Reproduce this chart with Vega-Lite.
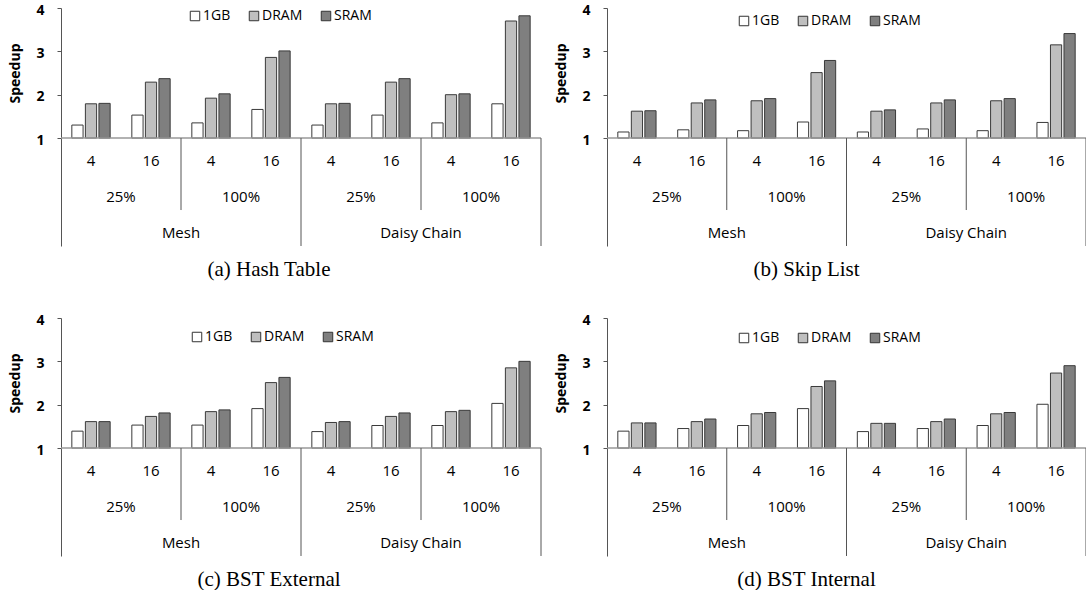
{
  "$schema": "https://vega.github.io/schema/vega-lite/v6.json",
  "background": "white",
  "padding": {"left": 7, "top": 3, "right": 0, "bottom": 0},
  "columns": 2,
  "spacing": {"row": 33, "column": 11},
  "resolve": {"scale": {"x": "independent", "y": "independent", "fill": "independent", "xOffset": "independent"}, "legend": {"fill": "independent"}},
  "datasets": {
    "speed": [
      {"panel":"a","net":"Mesh","pct":"25%","thr":"4","cfg":"Mesh 25% 4","mem":"1GB","speedup":1.30},
      {"panel":"a","net":"Mesh","pct":"25%","thr":"4","cfg":"Mesh 25% 4","mem":"DRAM","speedup":1.79},
      {"panel":"a","net":"Mesh","pct":"25%","thr":"4","cfg":"Mesh 25% 4","mem":"SRAM","speedup":1.80},
      {"panel":"a","net":"Mesh","pct":"25%","thr":"16","cfg":"Mesh 25% 16","mem":"1GB","speedup":1.53},
      {"panel":"a","net":"Mesh","pct":"25%","thr":"16","cfg":"Mesh 25% 16","mem":"DRAM","speedup":2.29},
      {"panel":"a","net":"Mesh","pct":"25%","thr":"16","cfg":"Mesh 25% 16","mem":"SRAM","speedup":2.37},
      {"panel":"a","net":"Mesh","pct":"100%","thr":"4","cfg":"Mesh 100% 4","mem":"1GB","speedup":1.35},
      {"panel":"a","net":"Mesh","pct":"100%","thr":"4","cfg":"Mesh 100% 4","mem":"DRAM","speedup":1.92},
      {"panel":"a","net":"Mesh","pct":"100%","thr":"4","cfg":"Mesh 100% 4","mem":"SRAM","speedup":2.02},
      {"panel":"a","net":"Mesh","pct":"100%","thr":"16","cfg":"Mesh 100% 16","mem":"1GB","speedup":1.66},
      {"panel":"a","net":"Mesh","pct":"100%","thr":"16","cfg":"Mesh 100% 16","mem":"DRAM","speedup":2.86},
      {"panel":"a","net":"Mesh","pct":"100%","thr":"16","cfg":"Mesh 100% 16","mem":"SRAM","speedup":3.01},
      {"panel":"a","net":"Daisy Chain","pct":"25%","thr":"4","cfg":"Daisy Chain 25% 4","mem":"1GB","speedup":1.30},
      {"panel":"a","net":"Daisy Chain","pct":"25%","thr":"4","cfg":"Daisy Chain 25% 4","mem":"DRAM","speedup":1.79},
      {"panel":"a","net":"Daisy Chain","pct":"25%","thr":"4","cfg":"Daisy Chain 25% 4","mem":"SRAM","speedup":1.80},
      {"panel":"a","net":"Daisy Chain","pct":"25%","thr":"16","cfg":"Daisy Chain 25% 16","mem":"1GB","speedup":1.53},
      {"panel":"a","net":"Daisy Chain","pct":"25%","thr":"16","cfg":"Daisy Chain 25% 16","mem":"DRAM","speedup":2.29},
      {"panel":"a","net":"Daisy Chain","pct":"25%","thr":"16","cfg":"Daisy Chain 25% 16","mem":"SRAM","speedup":2.37},
      {"panel":"a","net":"Daisy Chain","pct":"100%","thr":"4","cfg":"Daisy Chain 100% 4","mem":"1GB","speedup":1.35},
      {"panel":"a","net":"Daisy Chain","pct":"100%","thr":"4","cfg":"Daisy Chain 100% 4","mem":"DRAM","speedup":2.00},
      {"panel":"a","net":"Daisy Chain","pct":"100%","thr":"4","cfg":"Daisy Chain 100% 4","mem":"SRAM","speedup":2.02},
      {"panel":"a","net":"Daisy Chain","pct":"100%","thr":"16","cfg":"Daisy Chain 100% 16","mem":"1GB","speedup":1.79},
      {"panel":"a","net":"Daisy Chain","pct":"100%","thr":"16","cfg":"Daisy Chain 100% 16","mem":"DRAM","speedup":3.70},
      {"panel":"a","net":"Daisy Chain","pct":"100%","thr":"16","cfg":"Daisy Chain 100% 16","mem":"SRAM","speedup":3.82},

      {"panel":"b","net":"Mesh","pct":"25%","thr":"4","cfg":"Mesh 25% 4","mem":"1GB","speedup":1.14},
      {"panel":"b","net":"Mesh","pct":"25%","thr":"4","cfg":"Mesh 25% 4","mem":"DRAM","speedup":1.62},
      {"panel":"b","net":"Mesh","pct":"25%","thr":"4","cfg":"Mesh 25% 4","mem":"SRAM","speedup":1.63},
      {"panel":"b","net":"Mesh","pct":"25%","thr":"16","cfg":"Mesh 25% 16","mem":"1GB","speedup":1.19},
      {"panel":"b","net":"Mesh","pct":"25%","thr":"16","cfg":"Mesh 25% 16","mem":"DRAM","speedup":1.81},
      {"panel":"b","net":"Mesh","pct":"25%","thr":"16","cfg":"Mesh 25% 16","mem":"SRAM","speedup":1.88},
      {"panel":"b","net":"Mesh","pct":"100%","thr":"4","cfg":"Mesh 100% 4","mem":"1GB","speedup":1.17},
      {"panel":"b","net":"Mesh","pct":"100%","thr":"4","cfg":"Mesh 100% 4","mem":"DRAM","speedup":1.86},
      {"panel":"b","net":"Mesh","pct":"100%","thr":"4","cfg":"Mesh 100% 4","mem":"SRAM","speedup":1.91},
      {"panel":"b","net":"Mesh","pct":"100%","thr":"16","cfg":"Mesh 100% 16","mem":"1GB","speedup":1.37},
      {"panel":"b","net":"Mesh","pct":"100%","thr":"16","cfg":"Mesh 100% 16","mem":"DRAM","speedup":2.51},
      {"panel":"b","net":"Mesh","pct":"100%","thr":"16","cfg":"Mesh 100% 16","mem":"SRAM","speedup":2.79},
      {"panel":"b","net":"Daisy Chain","pct":"25%","thr":"4","cfg":"Daisy Chain 25% 4","mem":"1GB","speedup":1.14},
      {"panel":"b","net":"Daisy Chain","pct":"25%","thr":"4","cfg":"Daisy Chain 25% 4","mem":"DRAM","speedup":1.62},
      {"panel":"b","net":"Daisy Chain","pct":"25%","thr":"4","cfg":"Daisy Chain 25% 4","mem":"SRAM","speedup":1.65},
      {"panel":"b","net":"Daisy Chain","pct":"25%","thr":"16","cfg":"Daisy Chain 25% 16","mem":"1GB","speedup":1.21},
      {"panel":"b","net":"Daisy Chain","pct":"25%","thr":"16","cfg":"Daisy Chain 25% 16","mem":"DRAM","speedup":1.81},
      {"panel":"b","net":"Daisy Chain","pct":"25%","thr":"16","cfg":"Daisy Chain 25% 16","mem":"SRAM","speedup":1.88},
      {"panel":"b","net":"Daisy Chain","pct":"100%","thr":"4","cfg":"Daisy Chain 100% 4","mem":"1GB","speedup":1.17},
      {"panel":"b","net":"Daisy Chain","pct":"100%","thr":"4","cfg":"Daisy Chain 100% 4","mem":"DRAM","speedup":1.86},
      {"panel":"b","net":"Daisy Chain","pct":"100%","thr":"4","cfg":"Daisy Chain 100% 4","mem":"SRAM","speedup":1.91},
      {"panel":"b","net":"Daisy Chain","pct":"100%","thr":"16","cfg":"Daisy Chain 100% 16","mem":"1GB","speedup":1.36},
      {"panel":"b","net":"Daisy Chain","pct":"100%","thr":"16","cfg":"Daisy Chain 100% 16","mem":"DRAM","speedup":3.15},
      {"panel":"b","net":"Daisy Chain","pct":"100%","thr":"16","cfg":"Daisy Chain 100% 16","mem":"SRAM","speedup":3.41},

      {"panel":"c","net":"Mesh","pct":"25%","thr":"4","cfg":"Mesh 25% 4","mem":"1GB","speedup":1.39},
      {"panel":"c","net":"Mesh","pct":"25%","thr":"4","cfg":"Mesh 25% 4","mem":"DRAM","speedup":1.61},
      {"panel":"c","net":"Mesh","pct":"25%","thr":"4","cfg":"Mesh 25% 4","mem":"SRAM","speedup":1.61},
      {"panel":"c","net":"Mesh","pct":"25%","thr":"16","cfg":"Mesh 25% 16","mem":"1GB","speedup":1.53},
      {"panel":"c","net":"Mesh","pct":"25%","thr":"16","cfg":"Mesh 25% 16","mem":"DRAM","speedup":1.73},
      {"panel":"c","net":"Mesh","pct":"25%","thr":"16","cfg":"Mesh 25% 16","mem":"SRAM","speedup":1.81},
      {"panel":"c","net":"Mesh","pct":"100%","thr":"4","cfg":"Mesh 100% 4","mem":"1GB","speedup":1.53},
      {"panel":"c","net":"Mesh","pct":"100%","thr":"4","cfg":"Mesh 100% 4","mem":"DRAM","speedup":1.84},
      {"panel":"c","net":"Mesh","pct":"100%","thr":"4","cfg":"Mesh 100% 4","mem":"SRAM","speedup":1.88},
      {"panel":"c","net":"Mesh","pct":"100%","thr":"16","cfg":"Mesh 100% 16","mem":"1GB","speedup":1.91},
      {"panel":"c","net":"Mesh","pct":"100%","thr":"16","cfg":"Mesh 100% 16","mem":"DRAM","speedup":2.51},
      {"panel":"c","net":"Mesh","pct":"100%","thr":"16","cfg":"Mesh 100% 16","mem":"SRAM","speedup":2.63},
      {"panel":"c","net":"Daisy Chain","pct":"25%","thr":"4","cfg":"Daisy Chain 25% 4","mem":"1GB","speedup":1.38},
      {"panel":"c","net":"Daisy Chain","pct":"25%","thr":"4","cfg":"Daisy Chain 25% 4","mem":"DRAM","speedup":1.59},
      {"panel":"c","net":"Daisy Chain","pct":"25%","thr":"4","cfg":"Daisy Chain 25% 4","mem":"SRAM","speedup":1.61},
      {"panel":"c","net":"Daisy Chain","pct":"25%","thr":"16","cfg":"Daisy Chain 25% 16","mem":"1GB","speedup":1.52},
      {"panel":"c","net":"Daisy Chain","pct":"25%","thr":"16","cfg":"Daisy Chain 25% 16","mem":"DRAM","speedup":1.73},
      {"panel":"c","net":"Daisy Chain","pct":"25%","thr":"16","cfg":"Daisy Chain 25% 16","mem":"SRAM","speedup":1.81},
      {"panel":"c","net":"Daisy Chain","pct":"100%","thr":"4","cfg":"Daisy Chain 100% 4","mem":"1GB","speedup":1.52},
      {"panel":"c","net":"Daisy Chain","pct":"100%","thr":"4","cfg":"Daisy Chain 100% 4","mem":"DRAM","speedup":1.84},
      {"panel":"c","net":"Daisy Chain","pct":"100%","thr":"4","cfg":"Daisy Chain 100% 4","mem":"SRAM","speedup":1.87},
      {"panel":"c","net":"Daisy Chain","pct":"100%","thr":"16","cfg":"Daisy Chain 100% 16","mem":"1GB","speedup":2.03},
      {"panel":"c","net":"Daisy Chain","pct":"100%","thr":"16","cfg":"Daisy Chain 100% 16","mem":"DRAM","speedup":2.85},
      {"panel":"c","net":"Daisy Chain","pct":"100%","thr":"16","cfg":"Daisy Chain 100% 16","mem":"SRAM","speedup":3.00},

      {"panel":"d","net":"Mesh","pct":"25%","thr":"4","cfg":"Mesh 25% 4","mem":"1GB","speedup":1.39},
      {"panel":"d","net":"Mesh","pct":"25%","thr":"4","cfg":"Mesh 25% 4","mem":"DRAM","speedup":1.58},
      {"panel":"d","net":"Mesh","pct":"25%","thr":"4","cfg":"Mesh 25% 4","mem":"SRAM","speedup":1.58},
      {"panel":"d","net":"Mesh","pct":"25%","thr":"16","cfg":"Mesh 25% 16","mem":"1GB","speedup":1.45},
      {"panel":"d","net":"Mesh","pct":"25%","thr":"16","cfg":"Mesh 25% 16","mem":"DRAM","speedup":1.61},
      {"panel":"d","net":"Mesh","pct":"25%","thr":"16","cfg":"Mesh 25% 16","mem":"SRAM","speedup":1.67},
      {"panel":"d","net":"Mesh","pct":"100%","thr":"4","cfg":"Mesh 100% 4","mem":"1GB","speedup":1.52},
      {"panel":"d","net":"Mesh","pct":"100%","thr":"4","cfg":"Mesh 100% 4","mem":"DRAM","speedup":1.79},
      {"panel":"d","net":"Mesh","pct":"100%","thr":"4","cfg":"Mesh 100% 4","mem":"SRAM","speedup":1.82},
      {"panel":"d","net":"Mesh","pct":"100%","thr":"16","cfg":"Mesh 100% 16","mem":"1GB","speedup":1.91},
      {"panel":"d","net":"Mesh","pct":"100%","thr":"16","cfg":"Mesh 100% 16","mem":"DRAM","speedup":2.42},
      {"panel":"d","net":"Mesh","pct":"100%","thr":"16","cfg":"Mesh 100% 16","mem":"SRAM","speedup":2.55},
      {"panel":"d","net":"Daisy Chain","pct":"25%","thr":"4","cfg":"Daisy Chain 25% 4","mem":"1GB","speedup":1.38},
      {"panel":"d","net":"Daisy Chain","pct":"25%","thr":"4","cfg":"Daisy Chain 25% 4","mem":"DRAM","speedup":1.57},
      {"panel":"d","net":"Daisy Chain","pct":"25%","thr":"4","cfg":"Daisy Chain 25% 4","mem":"SRAM","speedup":1.57},
      {"panel":"d","net":"Daisy Chain","pct":"25%","thr":"16","cfg":"Daisy Chain 25% 16","mem":"1GB","speedup":1.45},
      {"panel":"d","net":"Daisy Chain","pct":"25%","thr":"16","cfg":"Daisy Chain 25% 16","mem":"DRAM","speedup":1.61},
      {"panel":"d","net":"Daisy Chain","pct":"25%","thr":"16","cfg":"Daisy Chain 25% 16","mem":"SRAM","speedup":1.67},
      {"panel":"d","net":"Daisy Chain","pct":"100%","thr":"4","cfg":"Daisy Chain 100% 4","mem":"1GB","speedup":1.52},
      {"panel":"d","net":"Daisy Chain","pct":"100%","thr":"4","cfg":"Daisy Chain 100% 4","mem":"DRAM","speedup":1.79},
      {"panel":"d","net":"Daisy Chain","pct":"100%","thr":"4","cfg":"Daisy Chain 100% 4","mem":"SRAM","speedup":1.82},
      {"panel":"d","net":"Daisy Chain","pct":"100%","thr":"16","cfg":"Daisy Chain 100% 16","mem":"1GB","speedup":2.01},
      {"panel":"d","net":"Daisy Chain","pct":"100%","thr":"16","cfg":"Daisy Chain 100% 16","mem":"DRAM","speedup":2.73},
      {"panel":"d","net":"Daisy Chain","pct":"100%","thr":"16","cfg":"Daisy Chain 100% 16","mem":"SRAM","speedup":2.90}
    ]
  },
  "concat": [
    {
      "data": {"name": "speed"},
      "transform": [{"filter": "datum.panel == 'a'"}],
      "width": 480, "height": 238,
      "title": {"text": "(a) Hash Table", "orient": "bottom", "anchor": "middle", "dx": -32, "offset": 12},
      "layer": [
        {"mark": {"type": "bar", "stroke": "#3a3a3a", "strokeWidth": 1},
         "encoding": {
           "x": {"field": "cfg", "type": "nominal", "axis": null, "scale": {"domain": ["Mesh 25% 4","Mesh 25% 16","Mesh 100% 4","Mesh 100% 16","Daisy Chain 25% 4","Daisy Chain 25% 16","Daisy Chain 100% 4","Daisy Chain 100% 16"], "paddingInner": 0, "paddingOuter": 0}},
           "xOffset": {"field": "mem", "type": "nominal", "scale": {"domain": ["1GB","DRAM","SRAM"], "paddingInner": 0.17, "paddingOuter": 0.8}},
           "y": {"field": "speedup", "type": "quantitative", "scale": {"domain": [-1.49, 4], "nice": false, "zero": false}, "axis": {"values": [1,2,3,4], "title": "Speedup", "titleX": -42, "titleY": 65, "titleAngle": -90, "titleBaseline": "alphabetic", "titleAlign": "center", "labelOffset": 2}},
           "y2": {"datum": 1},
           "fill": {"field": "mem", "type": "nominal", "scale": {"domain": ["1GB","DRAM","SRAM"], "range": ["#ffffff","#bfbfbf","#7f7f7f"]}, "legend": {"orient": "none", "legendX": 127, "legendY": 1, "direction": "horizontal", "title": null}}
         }},
        {"mark": {"type": "rule", "color": "#999999", "strokeWidth": 1.5},
         "transform": [{"filter": "datum.cfg == 'Mesh 25% 4' && datum.mem == '1GB'"}],
         "encoding": {"y": {"datum": 1}}},
        {"mark": {"type": "text"},
         "transform": [{"filter": "datum.mem == '1GB'"}],
         "encoding": {"x": {"field": "cfg", "type": "nominal"}, "y": {"datum": 0.47}, "text": {"field": "thr"}}},
        {"mark": {"type": "text"},
         "transform": [{"filter": "datum.mem == '1GB' && datum.thr == '4'"}],
         "encoding": {"x": {"field": "cfg", "type": "nominal", "bandPosition": 1}, "y": {"datum": -0.36}, "text": {"field": "pct"}}},
        {"mark": {"type": "text"},
         "transform": [{"filter": "datum.mem == '1GB' && datum.thr == '4' && datum.pct == '100%'"}],
         "encoding": {"x": {"field": "cfg", "type": "nominal", "bandPosition": 0}, "y": {"datum": -1.19}, "text": {"field": "net"}}},
        {"mark": {"type": "rule", "color": "#555555"},
         "transform": [{"filter": "datum.mem == '1GB' && datum.thr == '4' && datum.pct == '100%'"}],
         "encoding": {"x": {"field": "cfg", "type": "nominal", "bandPosition": 0}, "y": {"datum": 1}, "y2": {"datum": -0.66}}},
        {"mark": {"type": "rule", "color": "#555555"},
         "transform": [{"filter": "datum.mem == '1GB' && datum.thr == '4' && datum.pct == '25%' && datum.net == 'Daisy Chain'"}],
         "encoding": {"x": {"field": "cfg", "type": "nominal", "bandPosition": 0}, "y": {"datum": 1}, "y2": {"datum": -1.49}}},
        {"mark": {"type": "rule", "color": "#555555"},
         "transform": [{"filter": "datum.mem == '1GB' && datum.cfg == 'Daisy Chain 100% 16'"}],
         "encoding": {"x": {"field": "cfg", "type": "nominal", "bandPosition": 1}, "y": {"datum": 1}, "y2": {"datum": -1.49}}}
      ]
    },
    {
      "data": {"name": "speed"},
      "transform": [{"filter": "datum.panel == 'b'"}],
      "width": 479, "height": 238,
      "title": {"text": "(b) Skip List", "orient": "bottom", "anchor": "middle", "dx": -40, "offset": 12},
      "layer": [
        {"mark": {"type": "bar", "stroke": "#3a3a3a", "strokeWidth": 1},
         "encoding": {
           "x": {"field": "cfg", "type": "nominal", "axis": null, "scale": {"domain": ["Mesh 25% 4","Mesh 25% 16","Mesh 100% 4","Mesh 100% 16","Daisy Chain 25% 4","Daisy Chain 25% 16","Daisy Chain 100% 4","Daisy Chain 100% 16"], "paddingInner": 0, "paddingOuter": 0}},
           "xOffset": {"field": "mem", "type": "nominal", "scale": {"domain": ["1GB","DRAM","SRAM"], "paddingInner": 0.17, "paddingOuter": 0.8}},
           "y": {"field": "speedup", "type": "quantitative", "scale": {"domain": [-1.49, 4], "nice": false, "zero": false}, "axis": {"values": [1,2,3,4], "title": "Speedup", "titleX": -42, "titleY": 65, "titleAngle": -90, "titleBaseline": "alphabetic", "titleAlign": "center", "labelOffset": 2}},
           "y2": {"datum": 1},
           "fill": {"field": "mem", "type": "nominal", "scale": {"domain": ["1GB","DRAM","SRAM"], "range": ["#ffffff","#bfbfbf","#7f7f7f"]}, "legend": {"orient": "none", "legendX": 130, "legendY": 6, "direction": "horizontal", "title": null}}
         }},
        {"mark": {"type": "rule", "color": "#999999", "strokeWidth": 1.5},
         "transform": [{"filter": "datum.cfg == 'Mesh 25% 4' && datum.mem == '1GB'"}],
         "encoding": {"y": {"datum": 1}}},
        {"mark": {"type": "text"},
         "transform": [{"filter": "datum.mem == '1GB'"}],
         "encoding": {"x": {"field": "cfg", "type": "nominal"}, "y": {"datum": 0.47}, "text": {"field": "thr"}}},
        {"mark": {"type": "text"},
         "transform": [{"filter": "datum.mem == '1GB' && datum.thr == '4'"}],
         "encoding": {"x": {"field": "cfg", "type": "nominal", "bandPosition": 1}, "y": {"datum": -0.36}, "text": {"field": "pct"}}},
        {"mark": {"type": "text"},
         "transform": [{"filter": "datum.mem == '1GB' && datum.thr == '4' && datum.pct == '100%'"}],
         "encoding": {"x": {"field": "cfg", "type": "nominal", "bandPosition": 0}, "y": {"datum": -1.19}, "text": {"field": "net"}}},
        {"mark": {"type": "rule", "color": "#555555"},
         "transform": [{"filter": "datum.mem == '1GB' && datum.thr == '4' && datum.pct == '100%'"}],
         "encoding": {"x": {"field": "cfg", "type": "nominal", "bandPosition": 0}, "y": {"datum": 1}, "y2": {"datum": -0.66}}},
        {"mark": {"type": "rule", "color": "#555555"},
         "transform": [{"filter": "datum.mem == '1GB' && datum.thr == '4' && datum.pct == '25%' && datum.net == 'Daisy Chain'"}],
         "encoding": {"x": {"field": "cfg", "type": "nominal", "bandPosition": 0}, "y": {"datum": 1}, "y2": {"datum": -1.49}}},
        {"mark": {"type": "rule", "color": "#555555"},
         "transform": [{"filter": "datum.mem == '1GB' && datum.cfg == 'Daisy Chain 100% 16'"}],
         "encoding": {"x": {"field": "cfg", "type": "nominal", "bandPosition": 1}, "y": {"datum": 1}, "y2": {"datum": -1.49}}}
      ]
    },
    {
      "data": {"name": "speed"},
      "transform": [{"filter": "datum.panel == 'c'"}],
      "width": 480, "height": 238,
      "title": {"text": "(c) BST External", "orient": "bottom", "anchor": "middle", "dx": -32, "offset": 12},
      "layer": [
        {"mark": {"type": "bar", "stroke": "#3a3a3a", "strokeWidth": 1},
         "encoding": {
           "x": {"field": "cfg", "type": "nominal", "axis": null, "scale": {"domain": ["Mesh 25% 4","Mesh 25% 16","Mesh 100% 4","Mesh 100% 16","Daisy Chain 25% 4","Daisy Chain 25% 16","Daisy Chain 100% 4","Daisy Chain 100% 16"], "paddingInner": 0, "paddingOuter": 0}},
           "xOffset": {"field": "mem", "type": "nominal", "scale": {"domain": ["1GB","DRAM","SRAM"], "paddingInner": 0.17, "paddingOuter": 0.8}},
           "y": {"field": "speedup", "type": "quantitative", "scale": {"domain": [-1.49, 4], "nice": false, "zero": false}, "axis": {"values": [1,2,3,4], "title": "Speedup", "titleX": -42, "titleY": 65, "titleAngle": -90, "titleBaseline": "alphabetic", "titleAlign": "center", "labelOffset": 2}},
           "y2": {"datum": 1},
           "fill": {"field": "mem", "type": "nominal", "scale": {"domain": ["1GB","DRAM","SRAM"], "range": ["#ffffff","#bfbfbf","#7f7f7f"]}, "legend": {"orient": "none", "legendX": 129, "legendY": 12, "direction": "horizontal", "title": null}}
         }},
        {"mark": {"type": "rule", "color": "#999999", "strokeWidth": 1.5},
         "transform": [{"filter": "datum.cfg == 'Mesh 25% 4' && datum.mem == '1GB'"}],
         "encoding": {"y": {"datum": 1}}},
        {"mark": {"type": "text"},
         "transform": [{"filter": "datum.mem == '1GB'"}],
         "encoding": {"x": {"field": "cfg", "type": "nominal"}, "y": {"datum": 0.47}, "text": {"field": "thr"}}},
        {"mark": {"type": "text"},
         "transform": [{"filter": "datum.mem == '1GB' && datum.thr == '4'"}],
         "encoding": {"x": {"field": "cfg", "type": "nominal", "bandPosition": 1}, "y": {"datum": -0.36}, "text": {"field": "pct"}}},
        {"mark": {"type": "text"},
         "transform": [{"filter": "datum.mem == '1GB' && datum.thr == '4' && datum.pct == '100%'"}],
         "encoding": {"x": {"field": "cfg", "type": "nominal", "bandPosition": 0}, "y": {"datum": -1.19}, "text": {"field": "net"}}},
        {"mark": {"type": "rule", "color": "#555555"},
         "transform": [{"filter": "datum.mem == '1GB' && datum.thr == '4' && datum.pct == '100%'"}],
         "encoding": {"x": {"field": "cfg", "type": "nominal", "bandPosition": 0}, "y": {"datum": 1}, "y2": {"datum": -0.66}}},
        {"mark": {"type": "rule", "color": "#555555"},
         "transform": [{"filter": "datum.mem == '1GB' && datum.thr == '4' && datum.pct == '25%' && datum.net == 'Daisy Chain'"}],
         "encoding": {"x": {"field": "cfg", "type": "nominal", "bandPosition": 0}, "y": {"datum": 1}, "y2": {"datum": -1.49}}},
        {"mark": {"type": "rule", "color": "#555555"},
         "transform": [{"filter": "datum.mem == '1GB' && datum.cfg == 'Daisy Chain 100% 16'"}],
         "encoding": {"x": {"field": "cfg", "type": "nominal", "bandPosition": 1}, "y": {"datum": 1}, "y2": {"datum": -1.49}}}
      ]
    },
    {
      "data": {"name": "speed"},
      "transform": [{"filter": "datum.panel == 'd'"}],
      "width": 479, "height": 238,
      "title": {"text": "(d) BST Internal", "orient": "bottom", "anchor": "middle", "dx": -40, "offset": 12},
      "layer": [
        {"mark": {"type": "bar", "stroke": "#3a3a3a", "strokeWidth": 1},
         "encoding": {
           "x": {"field": "cfg", "type": "nominal", "axis": null, "scale": {"domain": ["Mesh 25% 4","Mesh 25% 16","Mesh 100% 4","Mesh 100% 16","Daisy Chain 25% 4","Daisy Chain 25% 16","Daisy Chain 100% 4","Daisy Chain 100% 16"], "paddingInner": 0, "paddingOuter": 0}},
           "xOffset": {"field": "mem", "type": "nominal", "scale": {"domain": ["1GB","DRAM","SRAM"], "paddingInner": 0.17, "paddingOuter": 0.8}},
           "y": {"field": "speedup", "type": "quantitative", "scale": {"domain": [-1.49, 4], "nice": false, "zero": false}, "axis": {"values": [1,2,3,4], "title": "Speedup", "titleX": -42, "titleY": 65, "titleAngle": -90, "titleBaseline": "alphabetic", "titleAlign": "center", "labelOffset": 2}},
           "y2": {"datum": 1},
           "fill": {"field": "mem", "type": "nominal", "scale": {"domain": ["1GB","DRAM","SRAM"], "range": ["#ffffff","#bfbfbf","#7f7f7f"]}, "legend": {"orient": "none", "legendX": 130, "legendY": 13, "direction": "horizontal", "title": null}}
         }},
        {"mark": {"type": "rule", "color": "#999999", "strokeWidth": 1.5},
         "transform": [{"filter": "datum.cfg == 'Mesh 25% 4' && datum.mem == '1GB'"}],
         "encoding": {"y": {"datum": 1}}},
        {"mark": {"type": "text"},
         "transform": [{"filter": "datum.mem == '1GB'"}],
         "encoding": {"x": {"field": "cfg", "type": "nominal"}, "y": {"datum": 0.47}, "text": {"field": "thr"}}},
        {"mark": {"type": "text"},
         "transform": [{"filter": "datum.mem == '1GB' && datum.thr == '4'"}],
         "encoding": {"x": {"field": "cfg", "type": "nominal", "bandPosition": 1}, "y": {"datum": -0.36}, "text": {"field": "pct"}}},
        {"mark": {"type": "text"},
         "transform": [{"filter": "datum.mem == '1GB' && datum.thr == '4' && datum.pct == '100%'"}],
         "encoding": {"x": {"field": "cfg", "type": "nominal", "bandPosition": 0}, "y": {"datum": -1.19}, "text": {"field": "net"}}},
        {"mark": {"type": "rule", "color": "#555555"},
         "transform": [{"filter": "datum.mem == '1GB' && datum.thr == '4' && datum.pct == '100%'"}],
         "encoding": {"x": {"field": "cfg", "type": "nominal", "bandPosition": 0}, "y": {"datum": 1}, "y2": {"datum": -0.66}}},
        {"mark": {"type": "rule", "color": "#555555"},
         "transform": [{"filter": "datum.mem == '1GB' && datum.thr == '4' && datum.pct == '25%' && datum.net == 'Daisy Chain'"}],
         "encoding": {"x": {"field": "cfg", "type": "nominal", "bandPosition": 0}, "y": {"datum": 1}, "y2": {"datum": -1.49}}},
        {"mark": {"type": "rule", "color": "#555555"},
         "transform": [{"filter": "datum.mem == '1GB' && datum.cfg == 'Daisy Chain 100% 16'"}],
         "encoding": {"x": {"field": "cfg", "type": "nominal", "bandPosition": 1}, "y": {"datum": 1}, "y2": {"datum": -1.49}}}
      ]
    }
  ],
  "config": {
    "view": {"stroke": null},
    "font": "Open Sans",
    "axisY": {"grid": false, "domainColor": "#555555", "tickColor": "#555555", "tickSize": 4, "labelFont": "Open Sans", "labelFontWeight": "bold", "labelFontSize": 14, "labelColor": "#000000", "labelPadding": 13, "titleFont": "Open Sans", "titleFontWeight": "bold", "titleFontSize": 14, "titleColor": "#000000"},
    "legend": {"labelFont": "Open Sans", "labelFontSize": 14, "labelColor": "#000000", "symbolType": "square", "symbolSize": 90, "symbolStrokeColor": "#333333", "symbolStrokeWidth": 1, "columnPadding": 16, "labelOffset": 1, "padding": 0},
    "title": {"font": "Liberation Serif", "fontSize": 21, "fontWeight": "normal", "color": "#000000"},
    "text": {"font": "Open Sans", "fontSize": 15, "color": "#000000", "baseline": "middle", "align": "center"}
  }
}
